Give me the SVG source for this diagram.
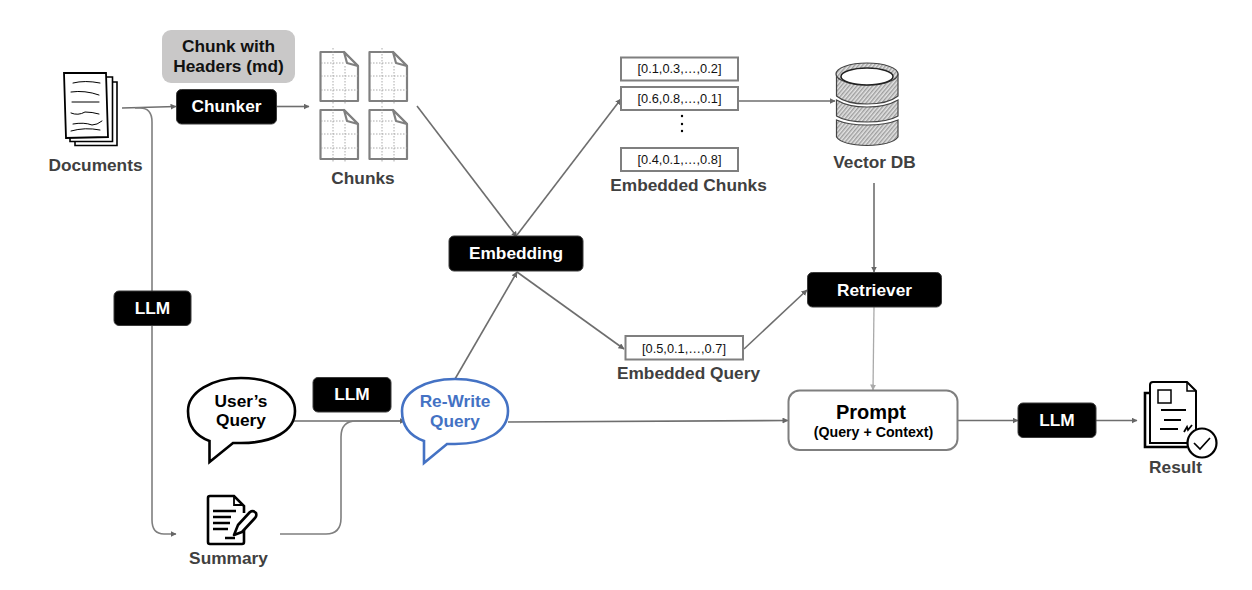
<svg xmlns="http://www.w3.org/2000/svg" width="1252" height="590" viewBox="0 0 1252 590">
<style>
text{font-family:"Liberation Sans",Arial,sans-serif;text-anchor:middle;font-weight:700}
.lab{fill:#404040;font-size:17.300px}
.blk{fill:#000;stroke:#3a3a3a;stroke-width:1}
.wt{fill:#fff;font-size:17.300px}
.dk{font-size:17.300px}
.vec{fill:#fff;stroke:#7f7f7f;stroke-width:2}
.vt{font-size:12.800px;font-weight:400;fill:#111}
.con{fill:none;stroke:#6e6e6e;stroke-width:1.600;marker-end:url(#a)}
.con0{fill:none;stroke:#7f7f7f;stroke-width:1.600}
.pg{fill:#fff;stroke:#808080;stroke-width:2.200;stroke-linejoin:round}
.gr{fill:none;stroke:#a0a0a0;stroke-width:.9;stroke-dasharray:1.500 1.500}
.ink{fill:none;stroke:#000;stroke-linecap:round;stroke-linejoin:round}
.db{fill:url(#h);stroke:#444;stroke-width:1.200}
</style>
<defs>
<marker id="a" markerWidth="7" markerHeight="7" refX="5.500" refY="3" orient="auto" markerUnits="userSpaceOnUse"><path d="M0 0L6 3L0 6z" fill="#666"/></marker>
<marker id="b" markerWidth="7" markerHeight="7" refX="5.500" refY="3" orient="auto" markerUnits="userSpaceOnUse"><path d="M0 0L6 3L0 6z" fill="#aaa"/></marker>
<g id="pgs"><path class="pg" d="M320.500 52H344L358 66V101H320.500Z"/><path class="pg" d="M344 52L347 63L358 66Z"/><path class="gr" d="M321 63H345M321 76H358M321 90H358M333 48V104M345 66V104"/></g>
<pattern id="h" width="3" height="3" patternUnits="userSpaceOnUse" patternTransform="rotate(-50)"><rect width="3" height="3" fill="#e4e4e4"/><path d="M0 .8H3" stroke="#666" stroke-width=".8"/></pattern>
</defs>
<g id="connectors">
<path class="con" d="M122 108L176 106.500"/>
<path class="con" d="M277 106.500H309"/>
<path class="con0" d="M135 108H140Q152 108 152 122V520Q152 534 164 534H176" style="marker-end:url(#a)"/>
<path class="con" d="M417 106L517 237"/>
<path class="con" d="M517 235L621 99"/>
<path class="con" d="M739 101H835"/>
<path class="con" d="M874 183V272"/>
<path class="con" d="M517 272L624 349"/>
<path class="con" d="M744 349L807 290"/>
<path d="M874 307L873 390" fill="none" stroke="#aaa" stroke-width="1.300" marker-end="url(#b)"/>
<path class="con" d="M455 379L517 272"/>
<path class="con" d="M293 421H405"/>
<path class="con0" d="M280 534H326Q341 534 341 518V437Q341 421 356 421H400"/>
<path class="con" d="M508 422L788 420.500"/>
<path class="con" d="M958 420.500H1018"/>
<path class="con" d="M1096 420.500H1137"/>
</g>
<g id="documents">
<path d="M110 82H117V145.500H75V141" fill="#fff" stroke="#000" stroke-width="1.600"/>
<path d="M106 77H112.500V141.500H70V137" fill="#fff" stroke="#000" stroke-width="1.600"/>
<path d="M64 73H106L108 137L66 138Z" fill="#fff" stroke="#000" stroke-width="1.800"/>
<path class="ink" d="M73 83Q85 80 100 83M71 92Q85 90 99 95M72 102H99M71 113Q78 116 85 112Q92 112 99 114M73 124Q84 122 92 125Q97 125 102 121M71 131Q85 127 100 130" stroke-width="1"/>
<text class="lab" x="95.500" y="171">Documents</text>
</g>
<g id="headers"><rect x="162" y="30" width="133" height="53" rx="9" fill="#c9c8c8"/><text class="dk" x="228.500" y="52" fill="#111">Chunk with</text><text class="dk" x="228.500" y="72" fill="#111">Headers (md)</text></g>
<g id="chunker"><rect class="blk" x="176.500" y="89.500" width="100" height="34.500" rx="5"/><text class="wt" x="226.500" y="112">Chunker</text></g>
<g id="chunks">
<use href="#pgs"/><use href="#pgs" x="49"/><use href="#pgs" y="58"/><use href="#pgs" x="49" y="58"/>
<text class="lab" x="363" y="184">Chunks</text></g>
<g id="embedding"><rect class="blk" x="449" y="236" width="134" height="35" rx="5"/><text class="wt" x="516" y="259">Embedding</text></g>
<g id="vectors">
<rect class="vec" x="621" y="57.500" width="117" height="23"/><text class="vt" x="679.500" y="73">[0.1,0.3,…,0.2]</text>
<rect class="vec" x="621" y="87" width="117" height="23"/><text class="vt" x="679.500" y="102.500">[0.6,0.8,…,0.1]</text>
<circle cx="682" cy="116" r="1.200"/><circle cx="682" cy="124" r="1.200"/><circle cx="682" cy="131" r="1.200"/>
<rect class="vec" x="621" y="148" width="117" height="23"/><text class="vt" x="679.500" y="163.500">[0.4,0.1,…,0.8]</text>
<text class="lab" x="688.500" y="191">Embedded Chunks</text></g>
<g id="vectordb">
<path class="db" d="M836.500 120V137Q842 145 867 145.500Q892 145 898 137V120Q886 125 867 125Q848 125 836.500 120Z"/>
<path class="db" d="M836.500 100V116Q846 122 867 122Q888 122 898 116V100Q886 107 867 107Q848 107 836.500 100Z"/>
<path class="db" d="M836.500 74V96Q846 104 867 104Q888 104 898 96V74Z"/>
<ellipse class="db" cx="867" cy="74" rx="31" ry="11"/>
<ellipse cx="867" cy="76.500" rx="26" ry="8.500" fill="#fff" stroke="#222" stroke-width="1.500"/>
<text class="lab" x="874.500" y="168">Vector DB</text></g>
<g id="llm1"><rect class="blk" x="114" y="291" width="77" height="34.500" rx="5"/><text class="wt" x="152.500" y="314">LLM</text></g>
<g id="retriever"><rect class="blk" x="807.500" y="272.500" width="134" height="34.500" rx="5"/><text class="wt" x="874.500" y="296">Retriever</text></g>
<g id="embeddedquery"><rect class="vec" x="625.500" y="336" width="117.500" height="23.500"/><text class="vt" x="684" y="352.500">[0.5,0.1,…,0.7]</text>
<text class="lab" x="688.500" y="379">Embedded Query</text></g>
<g id="usersquery">
<path d="M209.500 441V462L233 443H241C273 443 295 431 295 411C295 392 273 378 241 378C212 378 188 392 188 411C188 426 196 436 209.500 441Z" fill="#fff" stroke="#000" stroke-width="2.600"/>
<text class="dk" x="241" y="407" fill="#000">User’s</text><text class="dk" x="241" y="426" fill="#000">Query</text></g>
<g id="llm2"><rect class="blk" x="313" y="377.500" width="78" height="34.500" rx="5"/><text class="wt" x="352" y="400">LLM</text></g>
<g id="rewrite">
<path d="M424 441V463L447 444H455C487 444 508 431 508 411C508 392 487 379 455 379C425 379 402 392 402 411C402 426 410 436 424 441Z" fill="#fff" stroke="#4472c4" stroke-width="2.600"/>
<text class="dk" x="455" y="407" fill="#4472c4">Re-Write</text><text class="dk" x="455" y="427" fill="#4472c4">Query</text></g>
<g id="summary">
<path d="M244 520V542Q244 544 242 544H210Q208 544 208 542V498Q208 496 210 496H234L244 506V513" fill="#fff" stroke="#000" stroke-width="2.600"/>
<path d="M234 497V505H243" fill="none" stroke="#000" stroke-width="1.800"/>
<path d="M213 511H236M213 517H231M213 523H230M213 529H228M225 538H235" stroke="#000" stroke-width="2.500"/>
<path d="M238 525L250 512Q253 510 256 513Q257 516 255 518L242 532L234 535Z" fill="#fff" stroke="#000" stroke-width="2.600" stroke-linejoin="round"/>
<text class="lab" x="228.500" y="564">Summary</text></g>
<g id="prompt"><rect x="788.500" y="390.500" width="169" height="59.500" rx="11" fill="#fff" stroke="#7f7f7f" stroke-width="2"/>
<text x="871" y="419" font-size="20" fill="#000">Prompt</text><text x="873.500" y="437" font-size="14.200" fill="#000">(Query + Context)</text></g>
<g id="llm3"><rect class="blk" x="1018" y="403" width="78" height="34.500" rx="5"/><text class="wt" x="1057" y="426">LLM</text></g>
<g id="result">
<path d="M1150 393H1145V447H1187" fill="none" stroke="#000" stroke-width="2.600"/>
<path d="M1153 382H1187L1196 391V432L1187 443H1150V385Q1150 382 1153 382Z" fill="#fff" stroke="#000" stroke-width="2"/>
<path d="M1187 382V391H1196" fill="none" stroke="#000" stroke-width="1.500"/>
<rect x="1158" y="390" width="13" height="13" fill="#fff" stroke="#000" stroke-width="1.500"/>
<path d="M1161 410H1186M1164 420H1181M1160 429H1178" stroke="#000" stroke-width="1.800"/>
<path d="M1184 432L1187 427L1188 430L1192 425" fill="none" stroke="#000" stroke-width="1.800"/>
<circle cx="1202" cy="443" r="14.500" fill="#fff" stroke="#000" stroke-width="2.200"/>
<path d="M1194 443L1200 449L1210 438" fill="none" stroke="#000" stroke-width="1.700"/>
<text class="lab" x="1175.500" y="473">Result</text></g>
</svg>
